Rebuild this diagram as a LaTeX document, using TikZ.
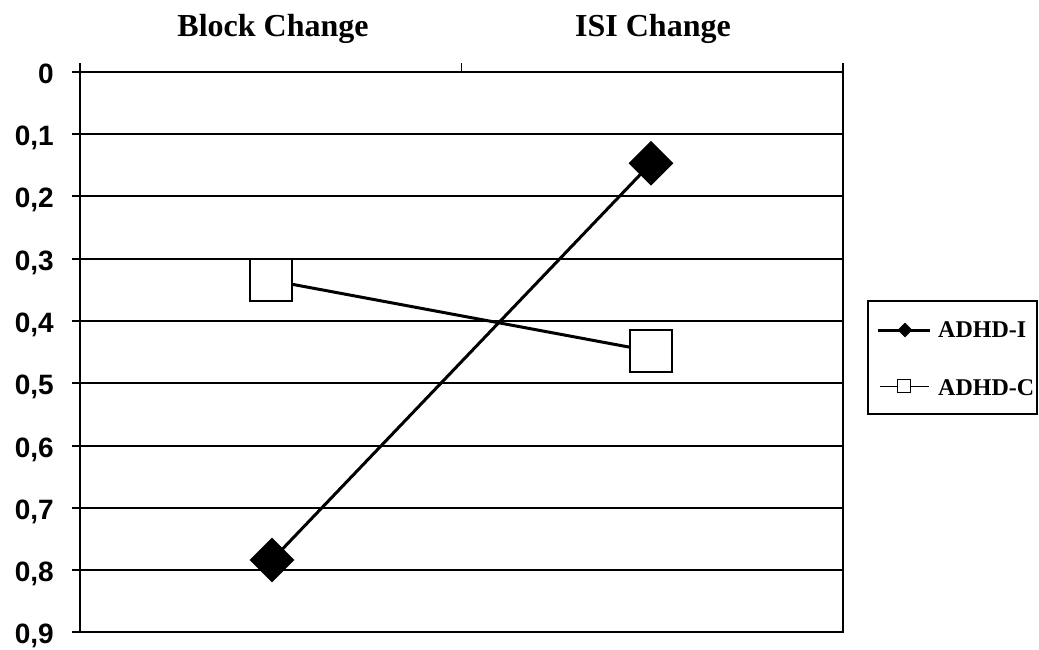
\documentclass[tikz,border=0pt]{standalone}
\usepackage{fontspec}
\setmainfont{Liberation Serif}
\newfontfamily\axisfont{Liberation Sans}
\usetikzlibrary{shapes.geometric}
\begin{document}
\begin{tikzpicture}[x=1pt,y=-1pt,
  grid/.style={line width=2pt,black},
  axisline/.style={line width=2.6pt,black},
  ticklab/.style={anchor=base east,inner sep=0pt,font=\axisfont\bfseries\fontsize{28}{32}\selectfont},
  cattitle/.style={anchor=base,inner sep=0pt,font=\bfseries\fontsize{32}{38}\selectfont},
  legtext/.style={anchor=base west,inner sep=0pt,font=\bfseries\fontsize{24}{28}\selectfont},
  dmark/.style={diamond,aspect=1,fill=black,inner sep=0pt,minimum width=45pt,minimum height=45pt},
  smark/.style={rectangle,draw=black,line width=2pt,fill=white,inner sep=0pt,minimum size=42pt},
  dmarksmall/.style={diamond,aspect=1,fill=black,inner sep=0pt,minimum width=15pt,minimum height=15pt},
  smarksmall/.style={rectangle,draw=black,line width=1.8pt,fill=white,inner sep=0pt,minimum size=13pt},
  serieline/.style={line width=3pt,black}]
\useasboundingbox (0,0) rectangle (1039,649);
% gridlines and ticks
\foreach \i/\lab in {0/0,1/{0,1},2/{0,2},3/{0,3},4/{0,4},5/{0,5},6/{0,6},7/{0,7},8/{0,8},9/{0,9}}{
  \pgfmathsetmacro{\yy}{71.7+62.3*\i}
  \draw[grid] (72,\yy) -- (843,\yy);
  \node[ticklab] at (54,\yy+11.5) {\lab};
}
% axes
\draw[axisline] (80,63) -- (80,633);
\draw[line width=2pt] (843,63) -- (843,633);
\draw[line width=1.5pt] (461.5,63) -- (461.5,72);
% category titles
\node[cattitle] (t1) at (273,36.5) {Block Change};
\node[cattitle] (t2) at (653,36.5) {ISI Change};
% ADHD-C series
\node[smark] (c1) at (270.7,280.3) {};
\node[smark] (c2) at (651.3,351.2) {};
\draw[serieline] (c1) -- (c2);
% ADHD-I series
\coordinate (i1) at (272,560);
\coordinate (i2) at (651,163.3);
\draw[serieline] (i1) -- (i2);
\node[dmark] (d1) at (i1) {};
\node[dmark] (d2) at (i2) {};
% legend
\draw[line width=1.6pt] (868,300.7) rectangle (1037,414);
\coordinate (la) at (878,330);
\coordinate (lb) at (930,330);
\draw[line width=3pt] (la) -- (lb);
\node[dmarksmall] (ld) at (905,330) {};
\node[legtext] (l1) at (938,337.3) {ADHD-I};
\coordinate (lc) at (880,386.5);
\coordinate (ldd) at (929,386.5);
\draw[line width=1.6pt] (lc) -- (ldd);
\node[smarksmall] (ls) at (904,386) {};
\node[legtext] (l2) at (938,395) {ADHD-C};
\end{tikzpicture}
\end{document}
